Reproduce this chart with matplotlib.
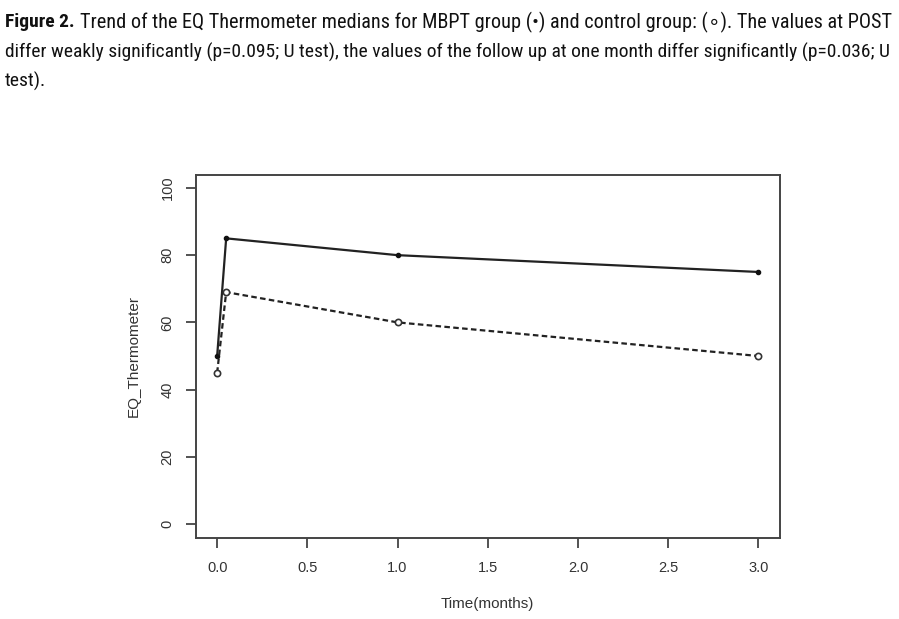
import matplotlib
matplotlib.use("Agg")
import matplotlib.pyplot as plt
from matplotlib import font_manager

# medians
time = [0, 0.05, 1, 3]
mbpt = [50, 85, 80, 75]
control = [45, 69, 60, 50]

xticks = [0.0, 0.5, 1.0, 1.5, 2.0, 2.5, 3.0]
yticks = [0, 20, 40, 60, 80, 100]

caption_lines = [
    "Trend of the EQ Thermometer medians for MBPT group (\u2022) and control group: (\u2218). The values at POST",
    "differ weakly significantly (p=0.095; U test), the values of the follow up at one month differ significantly (p=0.036; U",
    "test).",
]

names = {f.name for f in font_manager.fontManager.ttflist}
cap_font = 'DejaVu Sans'
for cand in ["Roboto Condensed", "Liberation Sans Narrow", "Open Sans Condensed"]:
    if cand in names:
        cap_font = cand
        break

plt.rcParams['font.family'] = ['Liberation Sans', 'DejaVu Sans']

fig = plt.figure(figsize=(8.99, 6.19), dpi=100)
ax = fig.add_axes([195.5 / 899, 1 - 537.5 / 619, 584.5 / 899, 363 / 619])

ax.plot(time, mbpt, color='#222222', lw=1.6, marker='o', ms=3, mfc='#111111', mec='#111111')
ax.plot(time, control, color='#222222', lw=1.6, ls=(0, (2.5, 1.5)), marker='o', ms=4.5,
        mfc='white', mec='#333333', mew=1.2)

ax.set_xlim(-0.12, 3.12)
ax.set_ylim(-4, 104)
ax.set_xticks(xticks)
ax.set_xticklabels([f"{t:.1f}" for t in xticks])
ax.set_yticks(yticks)
ax.set_yticklabels([str(t) for t in yticks], rotation=90, va='center')

for s in ax.spines.values():
    s.set_color('#444444')
    s.set_linewidth(1.4)

ax.tick_params(axis='both', colors='#444444', length=7, width=1.3, labelsize=10.5,
               labelcolor='#333333')
ax.tick_params(axis='x', pad=10)
ax.tick_params(axis='y', pad=8)

ax.set_xlabel("Time(months)", fontsize=11, color='#333333', labelpad=16)
ax.set_ylabel("EQ_Thermometer", fontsize=11, color='#333333', labelpad=14)

# caption, sized so the lines span the page width
fam = [cap_font, 'DejaVu Sans']
renderer = fig.canvas.get_renderer()
fs = 14
head = fig.text(5 / 899, 1 - 22 / 619, "Figure 2.", fontsize=fs, fontweight='bold',
                family=fam, va='center', color='#111111')
t1 = fig.text(0, 1 - 22 / 619, caption_lines[0], fontsize=fs, family=fam, va='center',
              color='#111111')
t2 = fig.text(5 / 899, 1 - 52 / 619, caption_lines[1], fontsize=fs, family=fam, va='center',
              color='#111111')
t3 = fig.text(5 / 899, 1 - 81 / 619, caption_lines[2], fontsize=fs, family=fam, va='center',
              color='#111111')
w2 = t2.get_window_extent(renderer).width
fs = fs * 886 / w2
for t in (head, t1, t2, t3):
    t.set_fontsize(fs)
hw = head.get_window_extent(renderer).width
t1.set_x((5 + hw + 5) / 899)
w1 = t1.get_window_extent(renderer).width
t1.set_fontsize(fs * (892 - 10 - hw) / w1)

fig.savefig("out.png", dpi=100)
